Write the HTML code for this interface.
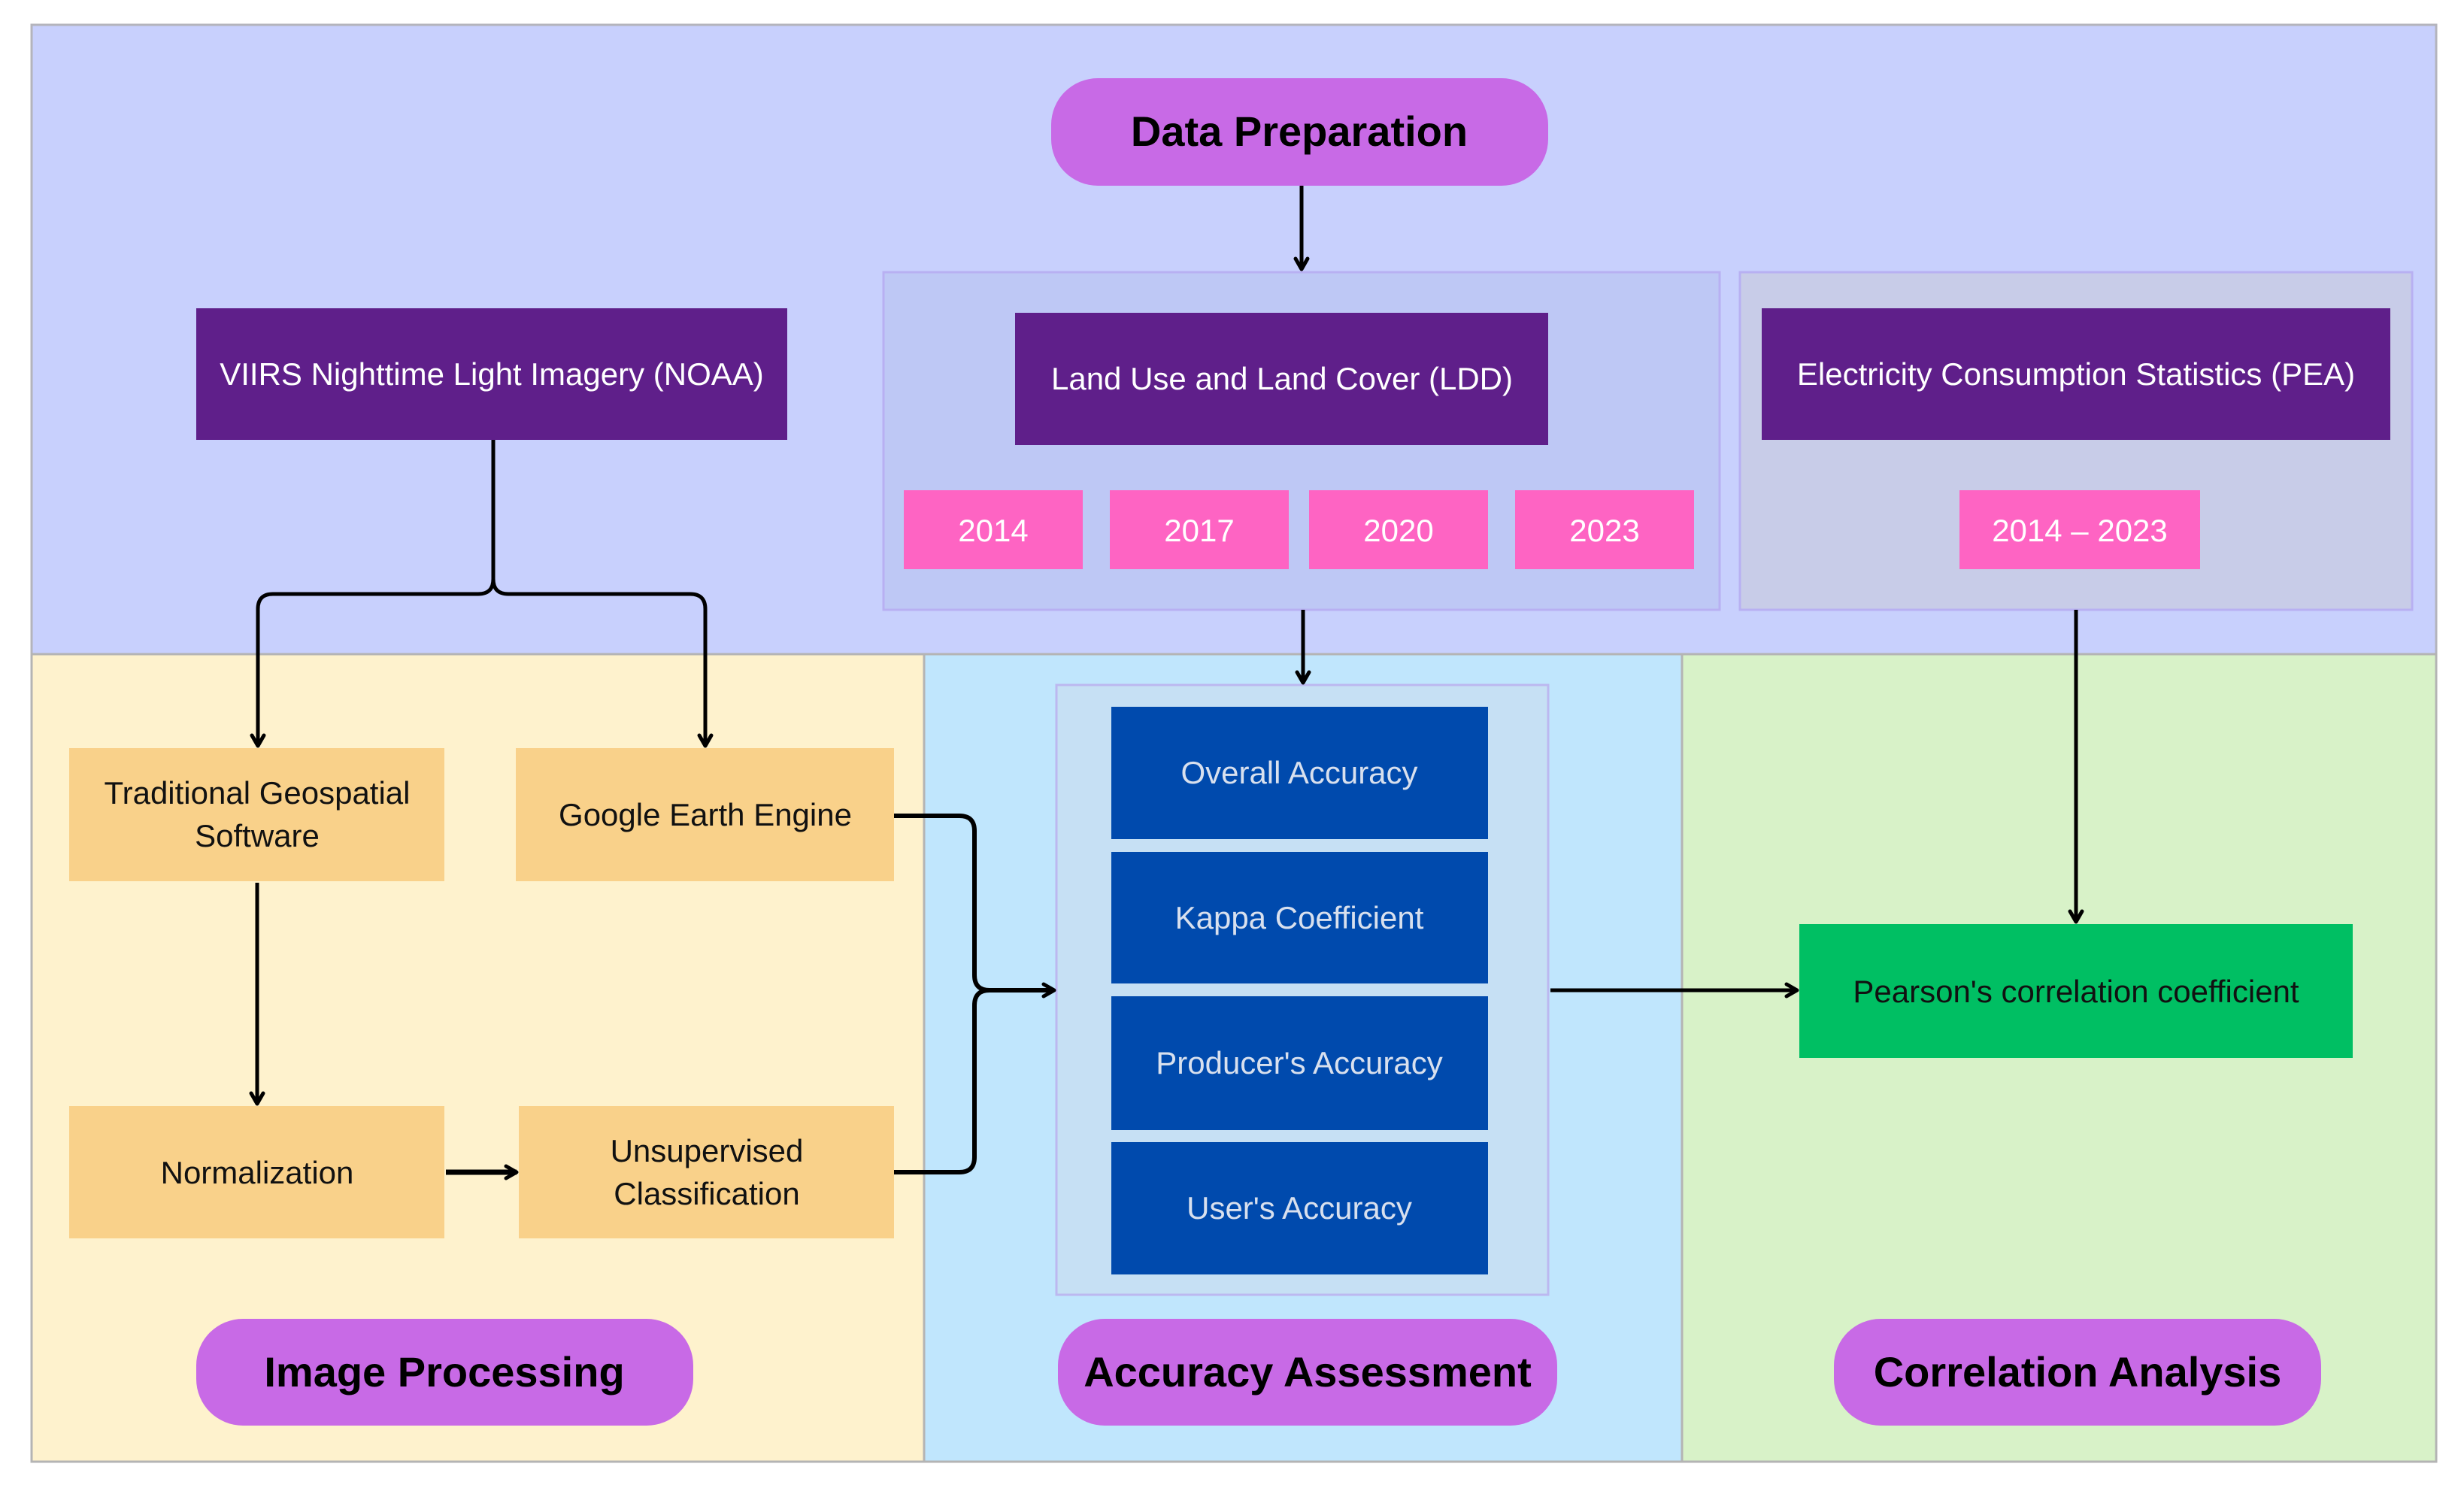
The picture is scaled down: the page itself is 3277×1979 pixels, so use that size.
<!DOCTYPE html>
<html><head><meta charset="utf-8"><style>
html,body{margin:0;padding:0;background:#fff;}
svg{display:block;}
text{font-family:"Liberation Sans",sans-serif;}
</style></head><body>
<svg width="3277" height="1979" viewBox="0 0 3277 1979" xmlns="http://www.w3.org/2000/svg">
<defs>
<marker id="a2" markerWidth="24" markerHeight="24" refX="20" refY="12" orient="auto" markerUnits="userSpaceOnUse">
<path d="M6,4 L20,12 L6,20" fill="none" stroke="#000" stroke-width="5" stroke-linecap="round" stroke-linejoin="round"/>
</marker>
</defs>
<rect width="3277" height="1979" fill="#fff"/>
<rect x="42" y="33" width="3198" height="837" fill="#c8d0fd" stroke="#b4b4bc" stroke-width="3"/>
<rect x="42" y="870" width="1187" height="1074" fill="#fef2cd" stroke="#b4b4b4" stroke-width="3"/>
<rect x="1229" y="870" width="1008" height="1074" fill="#c0e6fd" stroke="#b4b4b4" stroke-width="3"/>
<rect x="2237" y="870" width="1003" height="1074" fill="#d8f2c8" stroke="#b4b4b4" stroke-width="3"/>
<rect x="1175" y="362" width="1112" height="449" fill="#bec8f5" stroke="#b8b0f2" stroke-width="3"/>
<rect x="2314" y="362" width="894" height="449" fill="#c8cce8" stroke="#b8b0f2" stroke-width="3"/>
<rect x="1405" y="911" width="654" height="811" fill="#c6e0f4" stroke="#bcb8f0" stroke-width="3"/>
<rect x="1398" y="104" width="661" height="143" rx="62" fill="#c86ae6"/>
<text x="1728" y="194" font-size="56" font-weight="bold" text-anchor="middle">Data Preparation</text>
<rect x="261" y="1754" width="661" height="142" rx="62" fill="#c86ae6"/>
<text x="591" y="1844" font-size="56" font-weight="bold" text-anchor="middle">Image Processing</text>
<rect x="1407" y="1754" width="664" height="142" rx="62" fill="#c86ae6"/>
<text x="1739" y="1844" font-size="56" font-weight="bold" text-anchor="middle">Accuracy Assessment</text>
<rect x="2439" y="1754" width="648" height="142" rx="62" fill="#c86ae6"/>
<text x="2763" y="1844" font-size="56" font-weight="bold" text-anchor="middle">Correlation Analysis</text>
<rect x="261" y="410" width="786" height="175" fill="#5f1f8a"/>
<text x="654" y="512" font-size="42" fill="#fff" text-anchor="middle">VIIRS Nighttime Light Imagery (NOAA)</text>
<rect x="1350" y="416" width="709" height="176" fill="#5f1f8a"/>
<text x="1705" y="518" font-size="42" fill="#fff" text-anchor="middle">Land Use  and Land Cover (LDD)</text>
<rect x="2343" y="410" width="836" height="175" fill="#5f1f8a"/>
<text x="2761" y="512" font-size="42" fill="#fff" text-anchor="middle">Electricity Consumption Statistics (PEA)</text>
<g fill="#fe64c3">
<rect x="1202" y="652" width="238" height="105"/>
<rect x="1476" y="652" width="238" height="105"/>
<rect x="1741" y="652" width="238" height="105"/>
<rect x="2015" y="652" width="238" height="105"/>
<rect x="2606" y="652" width="320" height="105"/>
</g>
<g font-size="42" fill="#fff" text-anchor="middle">
<text x="1321" y="720">2014</text>
<text x="1595" y="720">2017</text>
<text x="1860" y="720">2020</text>
<text x="2134" y="720">2023</text>
<text x="2766" y="720">2014 – 2023</text>
</g>
<g fill="#f9d18a">
<rect x="92" y="995" width="499" height="177"/>
<rect x="686" y="995" width="503" height="177"/>
<rect x="92" y="1471" width="499" height="176"/>
<rect x="690" y="1471" width="499" height="176"/>
</g>
<g font-size="42" fill="#111" text-anchor="middle">
<text x="342" y="1069">Traditional Geospatial</text>
<text x="342" y="1126">Software</text>
<text x="938" y="1098">Google Earth Engine</text>
<text x="342" y="1574">Normalization</text>
<text x="940" y="1545">Unsupervised</text>
<text x="940" y="1602">Classification</text>
</g>
<g fill="#004aad">
<rect x="1478" y="940" width="501" height="176"/>
<rect x="1478" y="1133" width="501" height="175"/>
<rect x="1478" y="1325" width="501" height="178"/>
<rect x="1478" y="1519" width="501" height="176"/>
</g>
<g font-size="42" fill="#d8e0ee" text-anchor="middle">
<text x="1728" y="1042">Overall Accuracy</text>
<text x="1728" y="1235">Kappa Coefficient</text>
<text x="1728" y="1428">Producer's Accuracy</text>
<text x="1728" y="1621">User's Accuracy</text>
</g>
<rect x="2393" y="1229" width="736" height="178" fill="#00bf63"/>
<text x="2761" y="1333" font-size="42" fill="#111" text-anchor="middle">Pearson's correlation coefficient</text>
<g fill="none" stroke="#000" stroke-width="5" stroke-linejoin="round">
<path d="M1731,247 V358" marker-end="url(#a2)"/>
<path d="M1733,811 V908" marker-end="url(#a2)"/>
<path d="M2761,811 V1226" marker-end="url(#a2)"/>
<path d="M656,585 V770 Q656,790 636,790 H363 Q343,790 343,810 V992" marker-end="url(#a2)"/>
<path d="M656,770 Q656,790 676,790 H918 Q938,790 938,810 V992" marker-end="url(#a2)"/>
<path d="M342,1174 V1468" marker-end="url(#a2)"/>
<path d="M593,1559 H687" stroke-width="7" marker-end="url(#a2)"/>
<path d="M1189,1085 H1276 Q1296,1085 1296,1105 V1297 Q1296,1317 1316,1317 H1402" stroke-width="6" marker-end="url(#a2)"/>
<path d="M1189,1559 H1276 Q1296,1559 1296,1539 V1337 Q1296,1317 1316,1317" stroke-width="6"/>
<path d="M2062,1317 H2390" marker-end="url(#a2)"/>
</g>
</svg>
</body></html>
